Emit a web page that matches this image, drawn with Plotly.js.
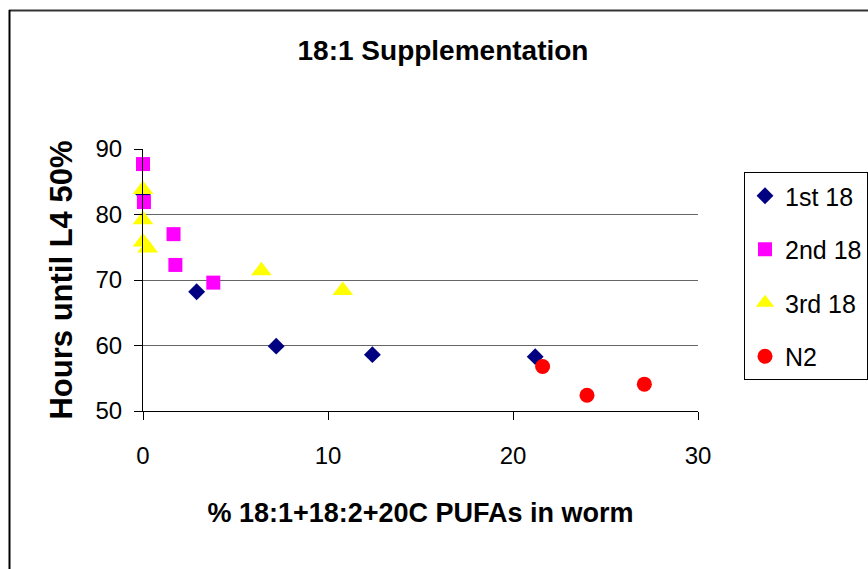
<!DOCTYPE html>
<html>
<head>
<meta charset="utf-8">
<script src="https://cdn.plot.ly/plotly-3.0.1.min.js"></script>
<style>html,body{margin:0;padding:0;background:#fff;}#chart{width:868px;height:569px;}</style>
</head>
<body>
<div id="chart"></div>
<script>
// Data
const seriesNames = ["1st 18", "2nd 18", "3rd 18", "N2"];
const first18X = [0.0, 2.9, 7.2, 12.4, 21.2];
const first18Y = [83.2, 68.2, 59.9, 58.6, 58.3];
const second18X = [0.0, 0.05, 1.65, 1.75, 3.8];
const second18Y = [87.7, 81.9, 77.0, 72.3, 69.6];
const third18X = [0.0, 0.0, 0.0, 0.25, 6.4, 10.8];
const third18Y = [83.8, 79.2, 75.8, 74.9, 71.4, 68.4];
const n2X = [21.6, 24.0, 27.1];
const n2Y = [56.8, 52.4, 54.1];
const xTicks = [0, 10, 20, 30];
const yTicks = [50, 60, 70, 80, 90];

const FONT = "Liberation Sans, Arial, sans-serif";
const colors = ["#000080", "#FF00FF", "#FFFF00", "#FF0000"];
const symbols = ["diamond", "square", "triangle-up", "circle"];
const sizes = [13, 14, 18, 15];
const xs = [first18X, second18X, third18X, n2X];
const ys = [first18Y, second18Y, third18Y, n2Y];

const traces = seriesNames.map((name, i) => ({
  type: "scatter",
  mode: "markers",
  name: name,
  legendgroup: "g" + i,
  x: xs[i],
  y: ys[i],
  cliponaxis: false,
  marker: {symbol: symbols[i], color: colors[i], size: sizes[i], line: {width: 0}}
}));

// plot area in px: x 143..698, y 149..411
const L = 143, R = 698, T = 149, B = 411;
const px = v => (v - L) / (R - L);
const py = v => (B - v) / (B - T);

const layout = {
  width: 868, height: 569,
  margin: {l: L, r: 868 - R, t: T, b: 569 - B, pad: 0, autoexpand: false},
  paper_bgcolor: "#fff",
  plot_bgcolor: "#fff",
  showlegend: true,
  font: {family: FONT, color: "#000"},
  title: {
    text: "<b>18:1 Supplementation</b>",
    font: {family: FONT, size: 28, color: "#000"},
    x: 443 / 868, xanchor: "center", xref: "container",
    y: 1 - 50 / 569, yanchor: "middle", yref: "container"
  },
  xaxis: {
    range: [0, 30],
    tickvals: xTicks,
    ticktext: xTicks.map(String),
    showgrid: false,
    zeroline: false,
    showline: true, linecolor: "#000", linewidth: 1,
    ticks: "outside", ticklen: 8, tickcolor: "#000", tickwidth: 1,
    tickfont: {family: FONT, size: 24, color: "#000"},
    ticklabelstandoff: 15,
    title: {text: "<b>% 18:1+18:2+20C PUFAs in worm</b>", font: {family: FONT, size: 27, color: "#000"}, standoff: 35}
  },
  yaxis: {
    range: [50, 90],
    tickvals: yTicks,
    ticktext: yTicks.map(String),
    showgrid: true, gridcolor: "#666", gridwidth: 1,
    zeroline: false,
    showline: true, linecolor: "#000", linewidth: 1,
    ticks: "outside", ticklen: 8, tickcolor: "#000", tickwidth: 1,
    tickfont: {family: FONT, size: 24, color: "#000"},
    ticklabelstandoff: 7,
    title: {text: "<b>Hours until L4 50%</b>", font: {family: FONT, size: 31, color: "#000"}, standoff: 13}
  },
  legend: {
    x: px(744), xanchor: "left",
    y: py(172), yanchor: "top",
    bgcolor: "#fff",
    bordercolor: "#000", borderwidth: 1,
    font: {family: FONT, size: 25, color: "#000"},
    tracegroupgap: 18,
    itemsizing: "trace"
  },
  shapes: [
    {type: "line", xref: "paper", yref: "paper", x0: px(9), x1: px(870), y0: py(10.5), y1: py(10.5), line: {color: "#333", width: 2}},
    {type: "line", xref: "paper", yref: "paper", x0: px(9.5), x1: px(9.5), y0: py(10), y1: py(572), line: {color: "#000", width: 2}}
  ]
};

Plotly.newPlot("chart", traces, layout, {displayModeBar: false, staticPlot: true});
</script>
</body>
</html>
